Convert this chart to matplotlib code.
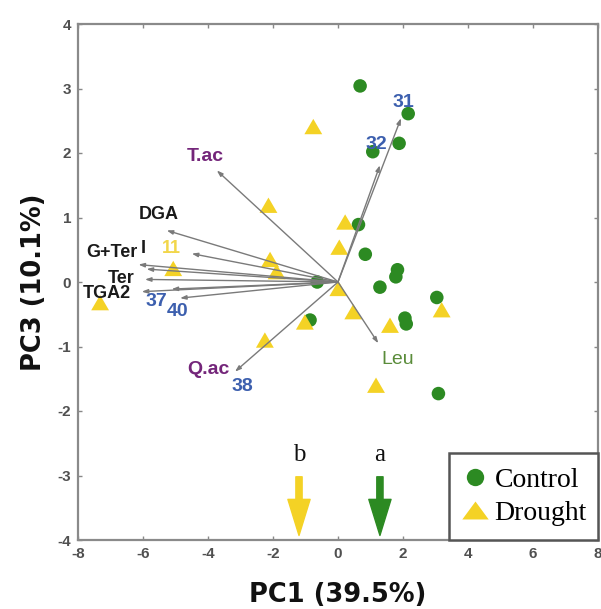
import matplotlib
matplotlib.use("Agg")
import matplotlib.pyplot as plt
from matplotlib.lines import Line2D

plt.rcParams["axes.unicode_minus"] = False

# ---- data ----
control_x = [0.68, 2.16, 1.88, 1.07, 0.63, 0.84, 1.83, 1.78, 1.29, 3.04, -0.64, 2.06, 2.10, 3.09, -0.86]
control_y = [3.04, 2.61, 2.15, 2.02, 0.89, 0.43, 0.19, 0.08, -0.08, -0.24, 0.00, -0.56, -0.65, -1.73, -0.59]

drought_x = [-0.76, -2.14, 0.22, 0.04, -2.09, -1.89, -5.07, -7.32, 0.01, 0.47, 1.60, 3.19, 1.17, -1.02, -2.25]
drought_y = [2.41, 1.19, 0.93, 0.54, 0.35, 0.16, 0.21, -0.32, -0.10, -0.46, -0.67, -0.43, -1.60, -0.62, -0.90]

# loading vectors (end points, from origin)
vec_x = [-3.73, -5.27, -4.50, -6.14, -5.89, -5.94, -6.04, -5.12, -4.86, -3.17, 1.94, 1.29, 1.24]
vec_y = [1.73, 0.80, 0.44, 0.27, 0.20, 0.04, -0.15, -0.11, -0.25, -1.39, 2.54, 1.81, -0.95]

# vector labels
lab_text = ["T.ac", "DGA", "G+Ter", "I", "11", "Ter", "TGA2", "37", "40", "Q.ac", "38", "31", "32", "Leu"]
lab_x = [-4.09, -5.53, -6.97, -5.99, -5.12, -6.66, -7.12, -5.60, -4.95, -3.99, -2.93, 2.01, 1.17, 1.83]
lab_y = [1.94, 1.05, 0.45, 0.52, 0.52, 0.06, -0.18, -0.31, -0.46, -1.36, -1.62, 2.78, 2.13, -1.20]
lab_kind = ["purple", "black", "black", "black", "yellow", "black", "black", "blue", "blue",
            "purple", "blue", "blue", "blue", "green"]

# group mean arrows
grp_letters = ["b", "a"]
grp_x = [-1.20, 1.29]
grp_kind = ["yellow", "green"]

x_ticks = [-8, -6, -4, -2, 0, 2, 4, 6, 8]
y_ticks = [-4, -3, -2, -1, 0, 1, 2, 3, 4]

# ---- style ----
GREEN = "#2c8a22"
YELLOW = "#f4d225"
colors = {"purple": "#74267a", "black": "#1a1a1a", "yellow": "#f2d64a",
          "blue": "#3c5fae", "green": "#5a8c3a"}
sizes = {"purple": 14, "black": 13, "yellow": 13, "blue": 14, "green": 14}
weights = {"purple": "bold", "black": "bold", "yellow": "bold", "blue": "bold", "green": "normal"}
arrow_cols = {"yellow": YELLOW, "green": GREEN}

TRI = [(-1, -0.86), (1, -0.86), (0, 0.86)]
TRI_WIDE = [(-1, -0.68), (1, -0.68), (0, 0.68)]

fig = plt.figure(figsize=(6.01, 6.09), dpi=100)
ax = fig.add_axes([78 / 601, 69 / 609, 520 / 601, 516 / 609])

ax.scatter(control_x, control_y, s=95, marker="o", color=GREEN, edgecolors="none", zorder=2)
ax.scatter(drought_x, drought_y, s=165, marker=TRI, color=YELLOW, edgecolors="none", zorder=3)

for vx, vy in zip(vec_x, vec_y):
    ax.annotate("", xy=(vx, vy), xytext=(0, 0),
                arrowprops=dict(arrowstyle="-|>,head_length=0.35,head_width=0.12",
                                color="#7a7a7a", lw=1.0, shrinkA=0, shrinkB=0),
                zorder=4)

for t, lx, ly, k in zip(lab_text, lab_x, lab_y, lab_kind):
    ax.text(lx, ly, t, color=colors[k], fontsize=sizes[k], fontweight=weights[k],
            family="Liberation Sans", ha="center", va="center", zorder=5)

for letter, gx, k in zip(grp_letters, grp_x, grp_kind):
    ax.annotate("", xy=(gx, -3.93), xytext=(gx, -3.02),
                arrowprops=dict(width=4.5, headwidth=16, headlength=26,
                                color=arrow_cols[k], shrink=0), zorder=5)
    ax.text(gx, -2.68, letter, fontsize=18, family="Liberation Serif",
            ha="center", va="center", color="#111111")

ax.set_xlim(-8, 8)
ax.set_ylim(-4, 4)
ax.set_xticks(x_ticks)
ax.set_yticks(y_ticks)
ax.tick_params(direction="in", length=3, width=1, color="#888888",
               top=True, right=True, labelsize=11, labelcolor="#505050", pad=5)
for lab in ax.get_xticklabels() + ax.get_yticklabels():
    lab.set_fontweight("bold")
    lab.set_family("Liberation Sans")
for sp in ax.spines.values():
    sp.set_color("#8a8a8a")
    sp.set_linewidth(1.6)

ax.set_xlabel("PC1 (39.5%)", fontsize=18.5, fontweight="bold", family="DejaVu Sans", color="#111111")
ax.set_ylabel("PC3 (10.1%)", fontsize=18.5, fontweight="bold", family="DejaVu Sans", color="#111111")
ax.xaxis.set_label_coords(0.5, -0.106)
ax.xaxis.label.set_va("center")
ax.yaxis.set_label_coords(-0.085, 0.5)
ax.yaxis.label.set_va("center")

handles = [Line2D([], [], marker="o", ls="none", color=GREEN, markersize=12.5, markeredgewidth=0),
           Line2D([], [], marker=TRI_WIDE, ls="none", color=YELLOW, markersize=19, markeredgewidth=0)]
leg = ax.legend(handles, ["Control", "Drought"], loc="lower left",
                bbox_to_anchor=(0.713, 0.0, 0.287, 0.167), mode="expand", borderaxespad=0,
                prop={"family": "Liberation Serif", "size": 20}, handlelength=0.9,
                handletextpad=0.25, labelspacing=0.29, borderpad=0.5,
                fancybox=False, framealpha=1)
leg.get_frame().set_edgecolor("#555555")
leg.get_frame().set_linewidth(1.8)
leg.set_zorder(6)

fig.savefig("out.png", dpi=100)
